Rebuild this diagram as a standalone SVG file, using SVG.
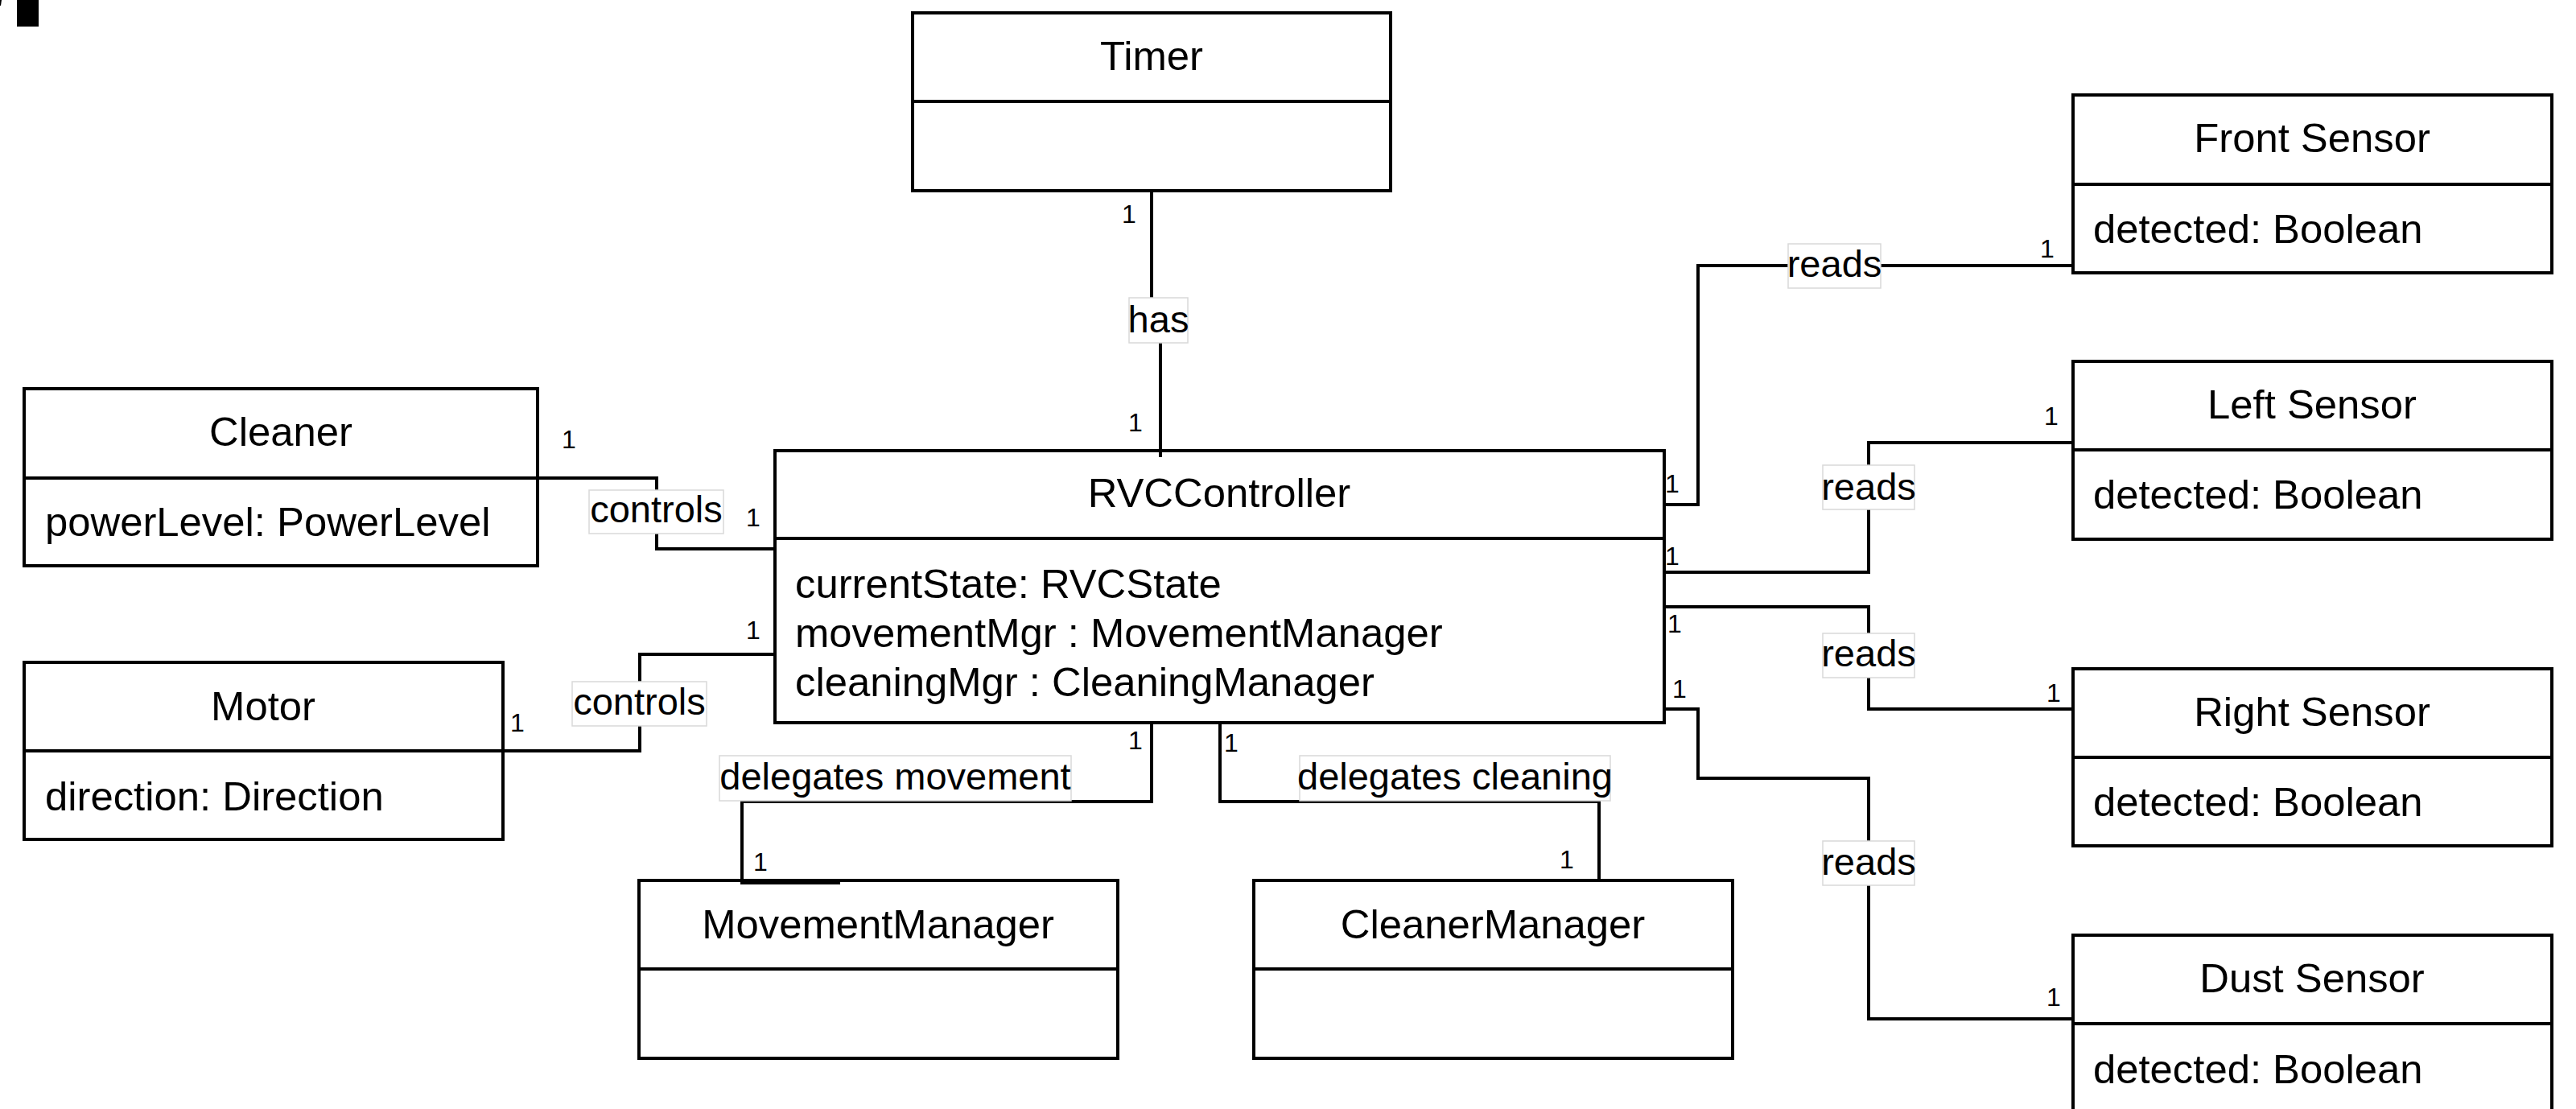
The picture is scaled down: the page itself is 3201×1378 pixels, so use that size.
<svg xmlns="http://www.w3.org/2000/svg" width="3201" height="1378" viewBox="0 0 3201 1378">
<style>
.box{fill:#fff;stroke:#000;stroke-width:4}
.div{stroke:#000;stroke-width:4}
.t{font-family:"Liberation Sans",Arial,sans-serif;font-size:50.8px;fill:#000}
.c{text-anchor:middle}
.e{fill:none;stroke:#000;stroke-width:4}
.lb{fill:#fff;stroke:#d9d9d9;stroke-width:1.5}
.lt{font-family:"Liberation Sans",Arial,sans-serif;font-size:47px;fill:#000;text-anchor:middle}
.m{font-family:"Liberation Sans",Arial,sans-serif;font-size:32px;fill:#000;text-anchor:middle}
</style>
<rect x="0" y="0" width="3201" height="1378" fill="#fff"/>
<rect x="21" y="0" width="27" height="33" fill="#000"/>
<path d="M0 0 H2 L1 7 H0 Z" fill="#000"/>

<g id="timer">
<rect class="box" x="1134" y="16" width="594" height="221"/>
<line class="div" x1="1134" y1="126" x2="1728" y2="126"/>
<text class="t c" x="1431" y="87">Timer</text>
</g>
<g id="front-sensor">
<rect class="box" x="2576" y="118" width="595" height="221"/>
<line class="div" x1="2576" y1="229" x2="3171" y2="229"/>
<text class="t c" x="2873" y="189">Front Sensor</text>
<text class="t" x="2601" y="302">detected: Boolean</text>
</g>
<g id="left-sensor">
<rect class="box" x="2576" y="449" width="595" height="221"/>
<line class="div" x1="2576" y1="559" x2="3171" y2="559"/>
<text class="t c" x="2873" y="520">Left Sensor</text>
<text class="t" x="2601" y="632">detected: Boolean</text>
</g>
<g id="right-sensor">
<rect class="box" x="2576" y="831" width="595" height="220"/>
<line class="div" x1="2576" y1="941" x2="3171" y2="941"/>
<text class="t c" x="2873" y="902">Right Sensor</text>
<text class="t" x="2601" y="1014">detected: Boolean</text>
</g>
<g id="dust-sensor">
<rect class="box" x="2576" y="1162" width="595" height="220"/>
<line class="div" x1="2576" y1="1272" x2="3171" y2="1272"/>
<text class="t c" x="2873" y="1233">Dust Sensor</text>
<text class="t" x="2601" y="1346">detected: Boolean</text>
</g>
<g id="cleaner">
<rect class="box" x="30" y="483" width="638" height="220"/>
<line class="div" x1="30" y1="594" x2="668" y2="594"/>
<text class="t c" x="349" y="554">Cleaner</text>
<text class="t" x="56" y="666">powerLevel: PowerLevel</text>
</g>
<g id="motor">
<rect class="box" x="30" y="823" width="595" height="220"/>
<line class="div" x1="30" y1="933" x2="625" y2="933"/>
<text class="t c" x="327" y="895">Motor</text>
<text class="t" x="56" y="1007">direction: Direction</text>
</g>
<g id="rvc-controller">
<rect class="box" x="963" y="560" width="1105" height="338"/>
<line class="div" x1="963" y1="669" x2="2068" y2="669"/>
<text class="t c" x="1515" y="630">RVCController</text>
<text class="t" x="988" y="743">currentState: RVCState</text>
<text class="t" x="988" y="804">movementMgr : MovementManager</text>
<text class="t" x="988" y="865">cleaningMgr : CleaningManager</text>
</g>
<g id="movement-manager">
<rect class="box" x="794" y="1094" width="595" height="221"/>
<line class="div" x1="794" y1="1204" x2="1389" y2="1204"/>
<text class="t c" x="1091" y="1166">MovementManager</text>
</g>
<g id="cleaner-manager">
<rect class="box" x="1558" y="1094" width="595" height="221"/>
<line class="div" x1="1558" y1="1204" x2="2153" y2="1204"/>
<text class="t c" x="1855" y="1166">CleanerManager</text>
</g>

<g id="connectors">
<path class="e" d="M1431 237 V398 H1442 V568"/>
<path class="e" d="M668 594 H816 V682 H963"/>
<path class="e" d="M625 933 H795 V813 H963"/>
<path class="e" d="M2068 627 H2110 V330 H2576"/>
<path class="e" d="M2068 711 H2322 V550 H2576"/>
<path class="e" d="M2068 754 H2322 V881 H2576"/>
<path class="e" d="M2068 881 H2110 V967 H2322 V1266 H2576"/>
<path class="e" d="M1431 898 V996 H922 V1097 H1044"/>
<path class="e" d="M1516 898 V996 H1987 V1094"/>

<rect class="lb" x="1403" y="370" width="73" height="56"/>
<text class="lt" x="1439.5" y="413">has</text>
<rect class="lb" x="732" y="609" width="167" height="54"/>
<text class="lt" x="815.5" y="649">controls</text>
<rect class="lb" x="711" y="847" width="167" height="55"/>
<text class="lt" x="794.5" y="888">controls</text>
<rect class="lb" x="2222" y="303" width="115" height="55"/>
<text class="lt" x="2279.5" y="344">reads</text>
<rect class="lb" x="2265" y="578" width="114" height="55"/>
<text class="lt" x="2322" y="621">reads</text>
<rect class="lb" x="2265" y="787" width="114" height="55"/>
<text class="lt" x="2322" y="828">reads</text>
<rect class="lb" x="2265" y="1045" width="114" height="55"/>
<text class="lt" x="2322" y="1087">reads</text>
<rect class="lb" x="894" y="939" width="437" height="56"/>
<text class="lt" x="1112.5" y="981">delegates movement</text>
<rect class="lb" x="1615" y="939" width="386" height="56"/>
<text class="lt" x="1808" y="981">delegates cleaning</text>

<text class="m" x="1403" y="277">1</text>
<text class="m" x="1411" y="536">1</text>
<text class="m" x="707" y="557">1</text>
<text class="m" x="936" y="654">1</text>
<text class="m" x="643" y="909">1</text>
<text class="m" x="936" y="794">1</text>
<text class="m" x="2544" y="320">1</text>
<text class="m" x="2078" y="612">1</text>
<text class="m" x="2549" y="528">1</text>
<text class="m" x="2078" y="702">1</text>
<text class="m" x="2081" y="786">1</text>
<text class="m" x="2552" y="872">1</text>
<text class="m" x="2087" y="867">1</text>
<text class="m" x="2552" y="1250">1</text>
<text class="m" x="1411" y="931">1</text>
<text class="m" x="945" y="1082">1</text>
<text class="m" x="1530" y="934">1</text>
<text class="m" x="1947" y="1079">1</text>
</g>
</svg>
